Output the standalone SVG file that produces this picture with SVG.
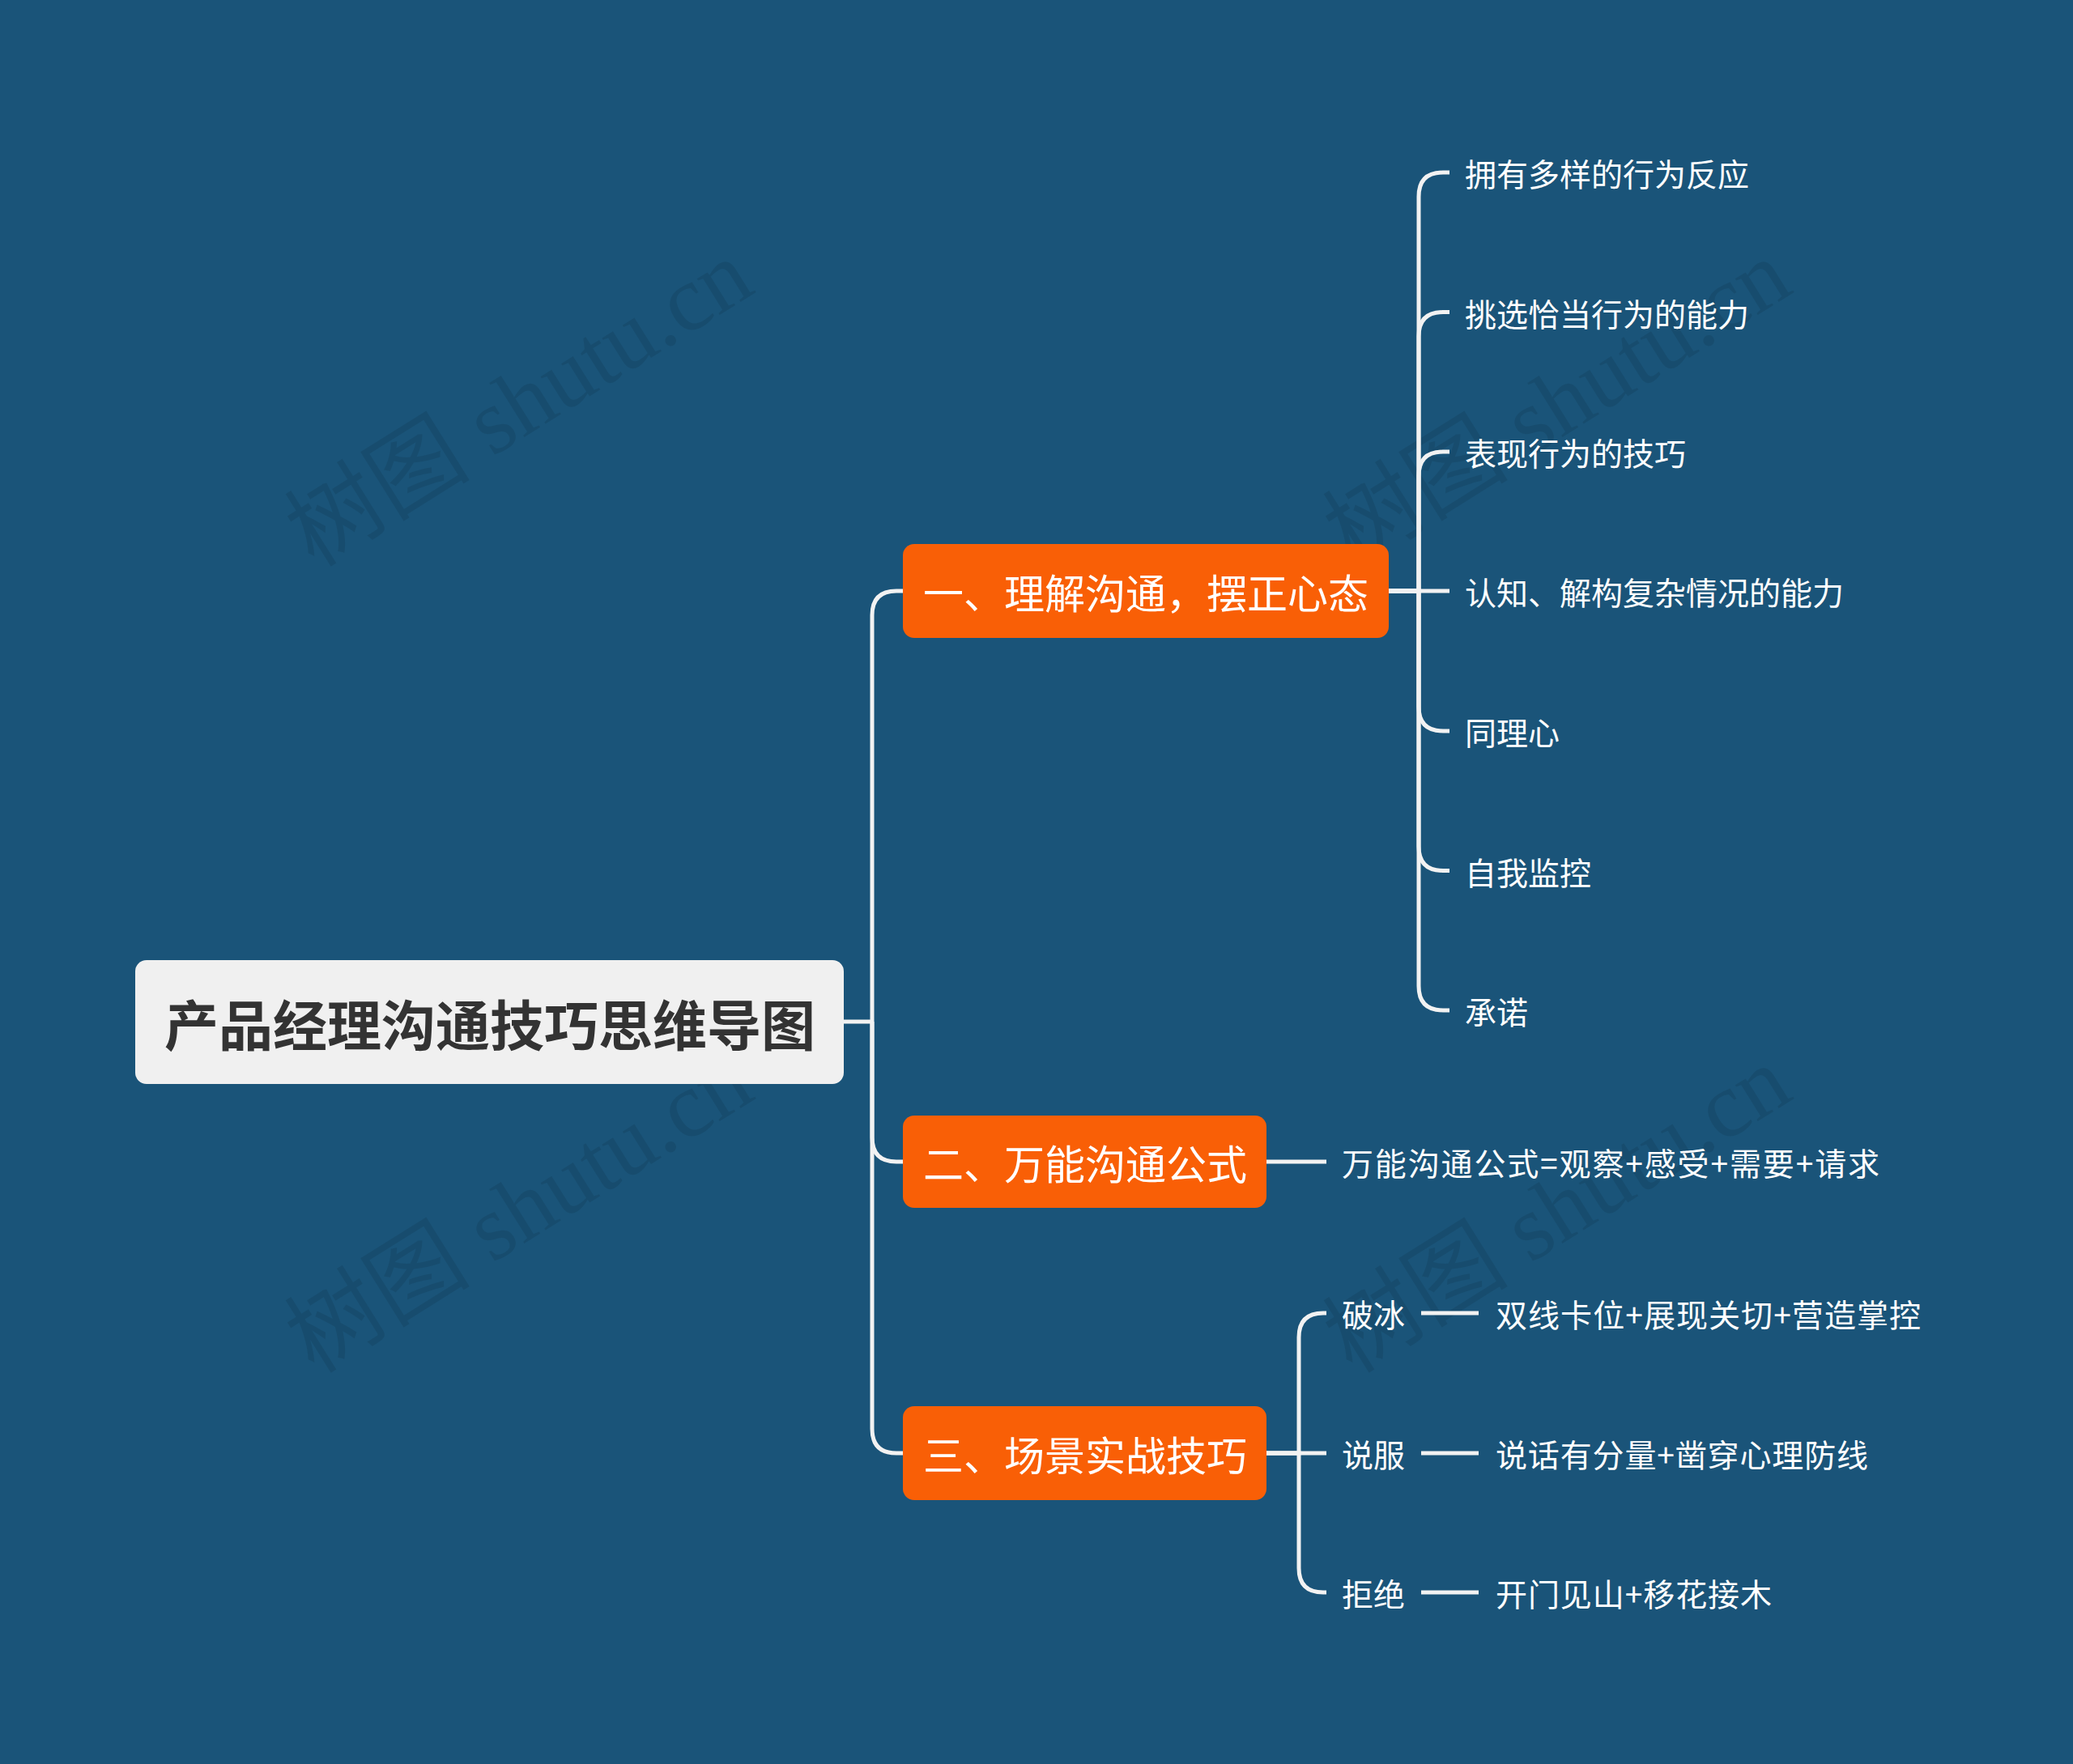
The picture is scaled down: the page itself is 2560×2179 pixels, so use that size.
<svg xmlns="http://www.w3.org/2000/svg" width="2560" height="2179" viewBox="0 0 2560 2179">
<style>
.bg{fill:#1a5479}
.wm{font-family:"Liberation Serif","Noto Sans CJK SC",serif;font-size:115px;fill:#000;fill-opacity:0.09}
.root-box{fill:#f0f0f0}
.root-txt{font-family:"Noto Sans CJK SC",sans-serif;font-weight:bold;font-size:67px;fill:#333333}
.br-box{fill:#f95f06}
.br-txt{font-family:"Noto Sans CJK SC",sans-serif;font-size:50px;fill:#ffffff}
.leaf{font-family:"Noto Sans CJK SC",sans-serif;font-size:39px;fill:#ffffff}
.ln{fill:none;stroke:#f2f2f2;stroke-width:5;stroke-linecap:butt}
</style>
<rect class="bg" x="0" y="0" width="2560" height="2179"/>
<g id="watermarks">
<text class="wm" transform="translate(388,702) rotate(-32)">树图 shutu.cn</text>
<text class="wm" transform="translate(388,1698) rotate(-32)">树图 shutu.cn</text>
<text class="wm" transform="translate(1670,702) rotate(-32)">树图 shutu.cn</text>
<text class="wm" transform="translate(1670,1698) rotate(-32)">树图 shutu.cn</text>
</g>
<g id="connectors">
<path class="ln" d="M1042 1262 H1077"/>
<path class="ln" d="M1077 1262 V760 Q1077 730 1107 730 H1115"/>
<path class="ln" d="M1077 1262 V1405 Q1077 1435 1107 1435 H1115"/>
<path class="ln" d="M1077 1262 V1765 Q1077 1795 1107 1795 H1115"/>
<path class="ln" d="M1715 730 H1752 V243 Q1752 213 1782 213 H1790"/>
<path class="ln" d="M1715 730 H1752 V415.5 Q1752 385.5 1782 385.5 H1790"/>
<path class="ln" d="M1715 730 H1752 V588 Q1752 558 1782 558 H1790"/>
<path class="ln" d="M1715 730 H1790"/>
<path class="ln" d="M1715 730 H1752 V873 Q1752 903 1782 903 H1790"/>
<path class="ln" d="M1715 730 H1752 V1045.5 Q1752 1075.5 1782 1075.5 H1790"/>
<path class="ln" d="M1715 730 H1752 V1218 Q1752 1248 1782 1248 H1790"/>
<path class="ln" d="M1564 1435 H1638"/>
<path class="ln" d="M1564 1795 H1604 V1652 Q1604 1622 1634 1622 H1638"/>
<path class="ln" d="M1564 1795 H1638"/>
<path class="ln" d="M1564 1795 H1604 V1937 Q1604 1967 1634 1967 H1638"/>
<path class="ln" d="M1755 1622 H1826"/>
<path class="ln" d="M1755 1795 H1826"/>
<path class="ln" d="M1755 1967 H1826"/>
</g>
<g id="root">
<rect class="root-box" x="167" y="1186" width="875" height="153" rx="14"/>
<text class="root-txt" x="605" y="1262" text-anchor="middle" dominant-baseline="central">产品经理沟通技巧思维导图</text>
</g>
<g id="branch1">
<rect class="br-box" x="1115" y="672" width="600" height="116" rx="14"/>
<text class="br-txt" x="1415" y="730" text-anchor="middle" dominant-baseline="central">一、理解沟通，摆正心态</text>
</g>
<g id="branch2">
<rect class="br-box" x="1115" y="1378" width="449" height="114" rx="14"/>
<text class="br-txt" x="1340" y="1435" text-anchor="middle" dominant-baseline="central">二、万能沟通公式</text>
</g>
<g id="branch3">
<rect class="br-box" x="1115" y="1737" width="449" height="116" rx="14"/>
<text class="br-txt" x="1340" y="1795" text-anchor="middle" dominant-baseline="central">三、场景实战技巧</text>
</g>
<g id="leaf1"><text class="leaf" x="1809" y="213" dominant-baseline="central">拥有多样的行为反应</text></g>
<g id="leaf2"><text class="leaf" x="1809" y="385.5" dominant-baseline="central">挑选恰当行为的能力</text></g>
<g id="leaf3"><text class="leaf" x="1809" y="558" dominant-baseline="central">表现行为的技巧</text></g>
<g id="leaf4"><text class="leaf" x="1809" y="730" dominant-baseline="central">认知、解构复杂情况的能力</text></g>
<g id="leaf5"><text class="leaf" x="1809" y="903" dominant-baseline="central">同理心</text></g>
<g id="leaf6"><text class="leaf" x="1809" y="1075.5" dominant-baseline="central">自我监控</text></g>
<g id="leaf7"><text class="leaf" x="1809" y="1248" dominant-baseline="central">承诺</text></g>
<g id="leaf8"><text class="leaf" x="1657" y="1435" dominant-baseline="central" textLength="664" lengthAdjust="spacing">万能沟通公式=观察+感受+需要+请求</text></g>
<g id="leaf9"><text class="leaf" x="1657" y="1622" dominant-baseline="central">破冰</text></g>
<g id="leaf10"><text class="leaf" x="1657" y="1795" dominant-baseline="central">说服</text></g>
<g id="leaf11"><text class="leaf" x="1657" y="1967" dominant-baseline="central">拒绝</text></g>
<g id="leaf12"><text class="leaf" x="1847" y="1622" dominant-baseline="central" textLength="525" lengthAdjust="spacing">双线卡位+展现关切+营造掌控</text></g>
<g id="leaf13"><text class="leaf" x="1847" y="1795" dominant-baseline="central" textLength="460" lengthAdjust="spacing">说话有分量+凿穿心理防线</text></g>
<g id="leaf14"><text class="leaf" x="1847" y="1967" dominant-baseline="central" textLength="341" lengthAdjust="spacing">开门见山+移花接木</text></g>
</svg>
